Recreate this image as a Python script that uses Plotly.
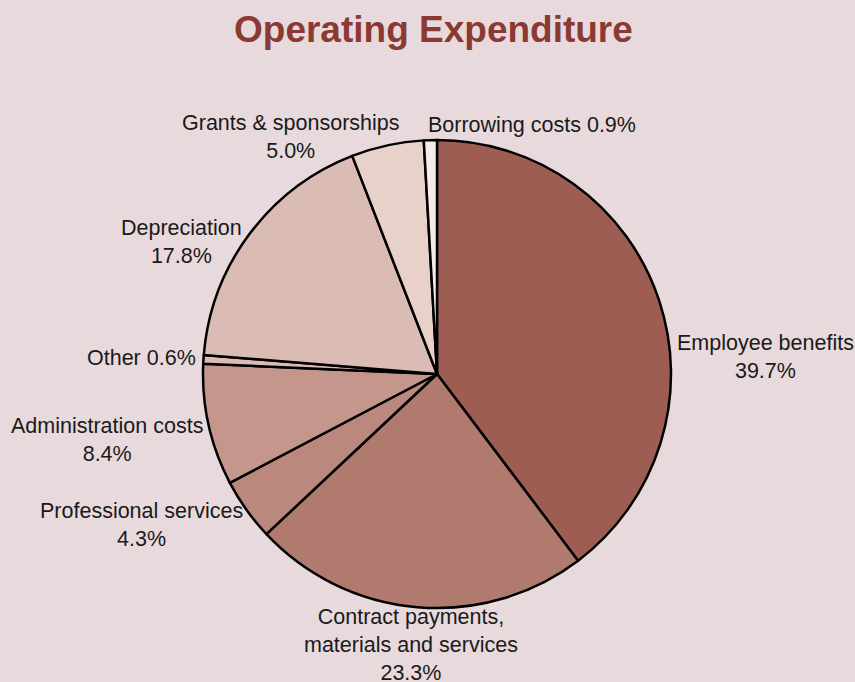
import plotly.graph_objects as go

categories = ["Employee benefits", "Contract payments,<br>materials and services", "Professional services",
              "Administration costs", "Other", "Depreciation", "Grants & sponsorships", "Borrowing costs"]
values = [39.7, 23.3, 4.3, 8.4, 0.6, 17.8, 5.0, 0.9]
colors = ["#9E5D52", "#B07A6E", "#BB887E", "#C4968C", "#DBBCB5", "#DBBCB5", "#E7D1C9", "#F5ECEA"]

# label placement (pixel centres) and whether value goes on same line
label_pos = [(765, 357, False), (411, 645, False), (141, 525, False), (107, 440, False),
             (141, 358, True), (181, 242, False), (291, 137, False), (532, 125, True)]

W, H = 855, 682
BG = "#E8D9DC"

cx, cy, r = 437, 374, 234

fig = go.Figure(go.Pie(
    labels=categories, values=values, sort=False, direction="clockwise", rotation=0,
    marker=dict(colors=colors, line=dict(color="black", width=2.5)),
    textinfo="none", hoverinfo="skip", showlegend=False,
    domain=dict(x=[(cx - r) / W, (cx + r) / W], y=[1 - (cy + r) / H, 1 - (cy - r) / H]),
))

anns = []
for cat, v, (px, py, inline) in zip(categories, values, label_pos):
    sep = " " if inline else "<br>"
    anns.append(dict(x=px / W, y=1 - py / H, xref="paper", yref="paper",
                     text=f"{cat}{sep}{v:.1f}%", showarrow=False, align="center",
                     xanchor="center", yanchor="middle",
                     font=dict(size=21.5, color="#1a1a1a", family="Liberation Sans, Arial, sans-serif")))

anns.append(dict(x=434 / W, y=1 - 30 / H, xref="paper", yref="paper", text="<b>Operating Expenditure</b>",
                 showarrow=False, xanchor="center", yanchor="middle",
                 font=dict(size=37, color="#8B3A33", family="Liberation Sans, Arial, sans-serif")))

fig.update_layout(width=W, height=H, margin=dict(l=0, r=0, t=0, b=0),
                  paper_bgcolor=BG, plot_bgcolor=BG, annotations=anns)
fig.write_html("out.html")
